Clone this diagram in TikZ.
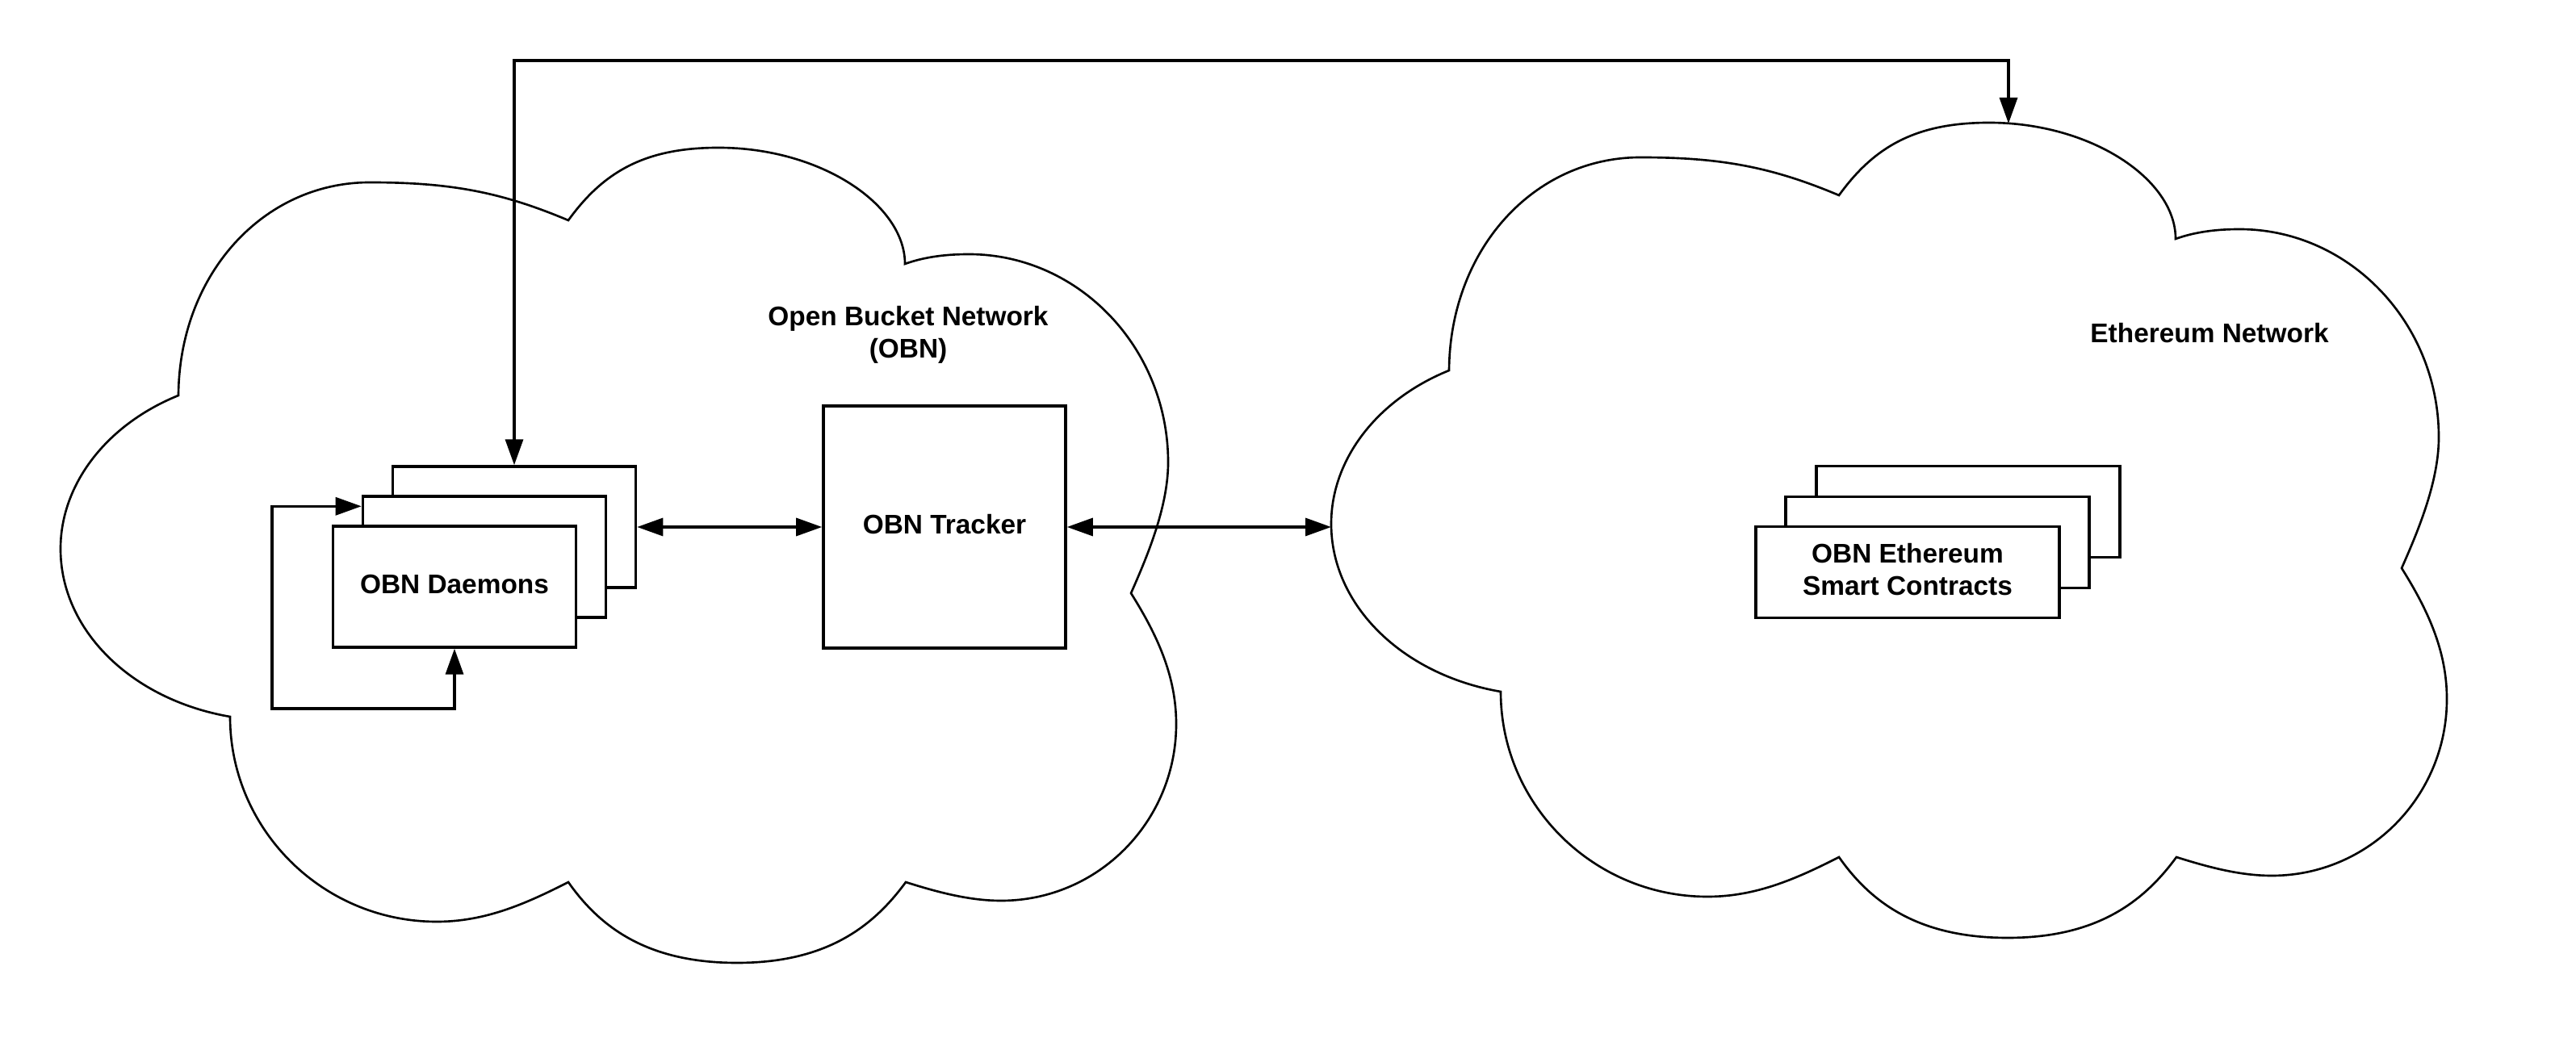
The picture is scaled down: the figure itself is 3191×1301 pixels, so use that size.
\documentclass[tikz,border=0pt]{standalone}
\usepackage{fontspec}
\setmainfont{Liberation Sans}
\usetikzlibrary{arrows.meta,calc}

\tikzset{
  >={Triangle[length=0.32cm,width=0.22cm]},
  cloudline/.style={line width=0.75pt},
  link/.style={line width=0.95pt,<->},
  boxtext/.style={font=\bfseries\fontsize{9.5}{11.4}\selectfont,align=center},
  stackbox/.style={draw,fill=white,line width=0.95pt,inner sep=0pt,boxtext,text depth=2pt},
  daemonbox/.style={stackbox,minimum width=3.01cm,minimum height=1.5cm},
  contractbox/.style={stackbox,minimum width=3.76cm,minimum height=1.13cm},
  pics/netcloud/.style={code={
    \draw[cloudline] (221,490)
      .. controls (222,340) and (326,226) .. (458,226)
      .. controls (558,226) and (621,238) .. (704,273)
      .. controls (748,212) and (800,183) .. (890,183)
      .. controls (1016,183) and (1121,253) .. (1121,327)
      .. controls (1146,318) and (1173,315) .. (1200,315)
      .. controls (1336,315) and (1447,431) .. (1447,573)
      .. controls (1447,630) and (1419,694) .. (1401,735)
      .. controls (1433,786) and (1457,837) .. (1457,897)
      .. controls (1457,1018) and (1360,1116) .. (1240,1116)
      .. controls (1200,1116) and (1160,1105) .. (1122,1093)
      .. controls (1081,1149) and (1023,1193) .. (913,1193)
      .. controls (803,1193) and (744,1150) .. (704,1093)
      .. controls (651,1120) and (601,1142) .. (541,1142)
      .. controls (400,1142) and (285,1028) .. (285,888)
      .. controls (163,867) and (75,781) .. (75,680)
      .. controls (75,600) and (132,526) .. cycle;
  }}
}

\begin{document}
\begin{tikzpicture}[x=0.01cm,y=-0.01cm]
  \useasboundingbox (0,0) rectangle (3191,1301);

  \pic at (0,0) {netcloud};
  \pic at (1574,-31) {netcloud};

  \node[boxtext] (obnname) at (1125,415) {Open Bucket Network\\(OBN)};
  \node[boxtext] (ethname) at (2737,413) {Ethereum Network};

  \node[daemonbox] (dmn3) at (637,653) {};
  \node[daemonbox] (dmn2) at (600,690) {};
  \node[daemonbox] (dmn1) at (563,727) {OBN Daemons};

  \node[stackbox,minimum width=3cm,minimum height=3cm] (trk) at (1170,653) {OBN Tracker};

  \node[contractbox] (eth3) at (2438,634) {};
  \node[contractbox] (eth2) at (2400,672) {};
  \node[contractbox] (eth1) at (2363,709) {OBN Ethereum\\Smart Contracts};

  \coordinate (topline) at (0,75);
  \coordinate (ethtop) at (2488,153);
  \coordinate (ethleft) at (1649,653);
  \coordinate (loopcorner) at (337,878);

  \draw[link] (dmn3.north) -- (dmn3.north |- topline) -| (ethtop);
  \draw[link] (dmn3.east) -- (trk.west);
  \draw[link] (trk.east) -- (ethleft);
  \draw[link] ([yshift=-0.14cm]dmn2.north west) -| (loopcorner) -| (dmn1.south);
\end{tikzpicture}
\end{document}
